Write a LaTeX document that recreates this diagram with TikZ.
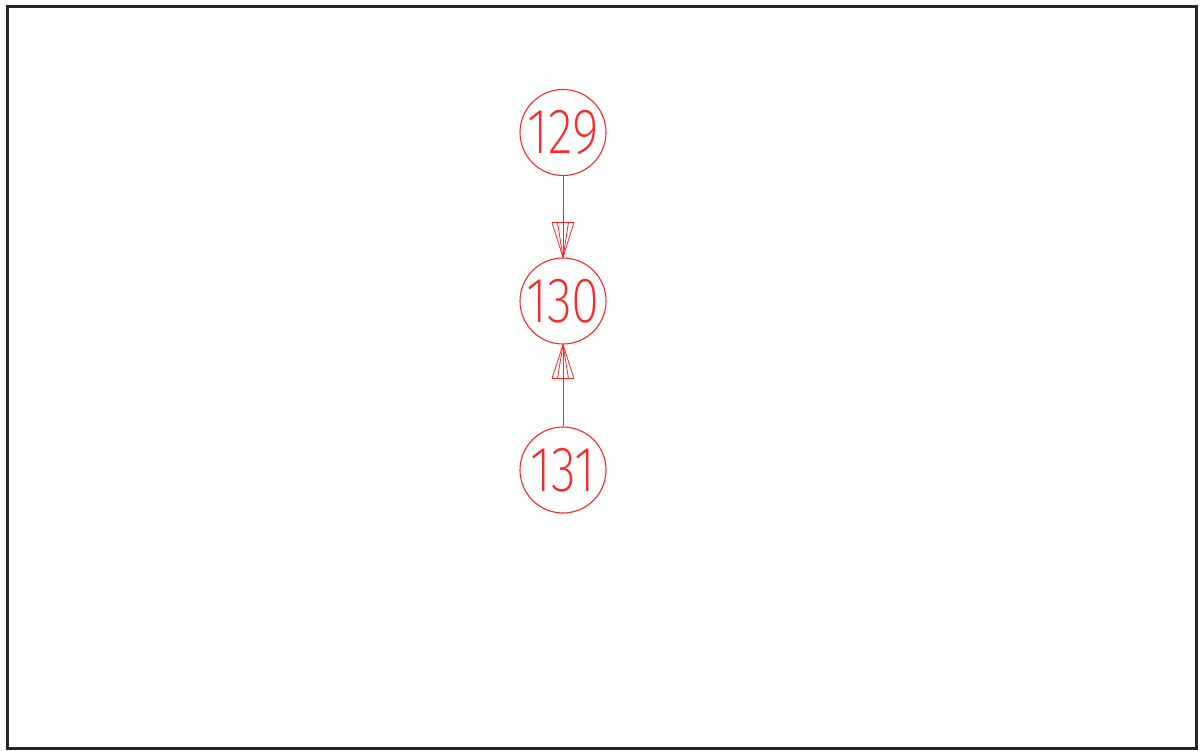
\documentclass[tikz,border=0pt]{standalone}
\usepackage{fontspec}
\newfontfamily\thinf[FakeStretch=0.8]{Fira Sans ExtraLight}
\tikzset{
  vert/.style={circle, draw=red!85, line width=1.1pt, minimum size=86pt, inner sep=0pt,
    text=red!85, font=\thinf\fontsize{64}{64}\selectfont},
  conn/.style={draw=red!85, line width=1pt},
}
\newcommand{\hatchhead}[2]{% #1 tip anchor, #2 yshift of base (+ up)
  \foreach \dx in {-11,-5.5,0,5.5,11}{
    \draw[conn, line width=0.8pt] ([xshift=\dx pt, yshift=#2]#1) -- (#1);
  }
  \draw[conn, line width=0.8pt] ([xshift=-11pt, yshift=#2]#1) -- ([xshift=11pt, yshift=#2]#1);
}
\begin{document}
\begin{tikzpicture}[x=1pt,y=-1pt]
\useasboundingbox (0,0) rectangle (1200,751);
\draw[line width=2.5pt, black!85] (7.5,6.5) rectangle (1196.5,748.5);
\node[vert] (n129) at (563,132.5) {129};
\node[vert] (n130) at (563,301) {130};
\node[vert] (n131) at (563,470) {131};
\draw[conn] (n129.south) -- (n130.north);
\hatchhead{n130.north}{35pt}
\draw[conn] (n131.north) -- (n130.south);
\hatchhead{n130.south}{-34pt}
\end{tikzpicture}
\end{document}
